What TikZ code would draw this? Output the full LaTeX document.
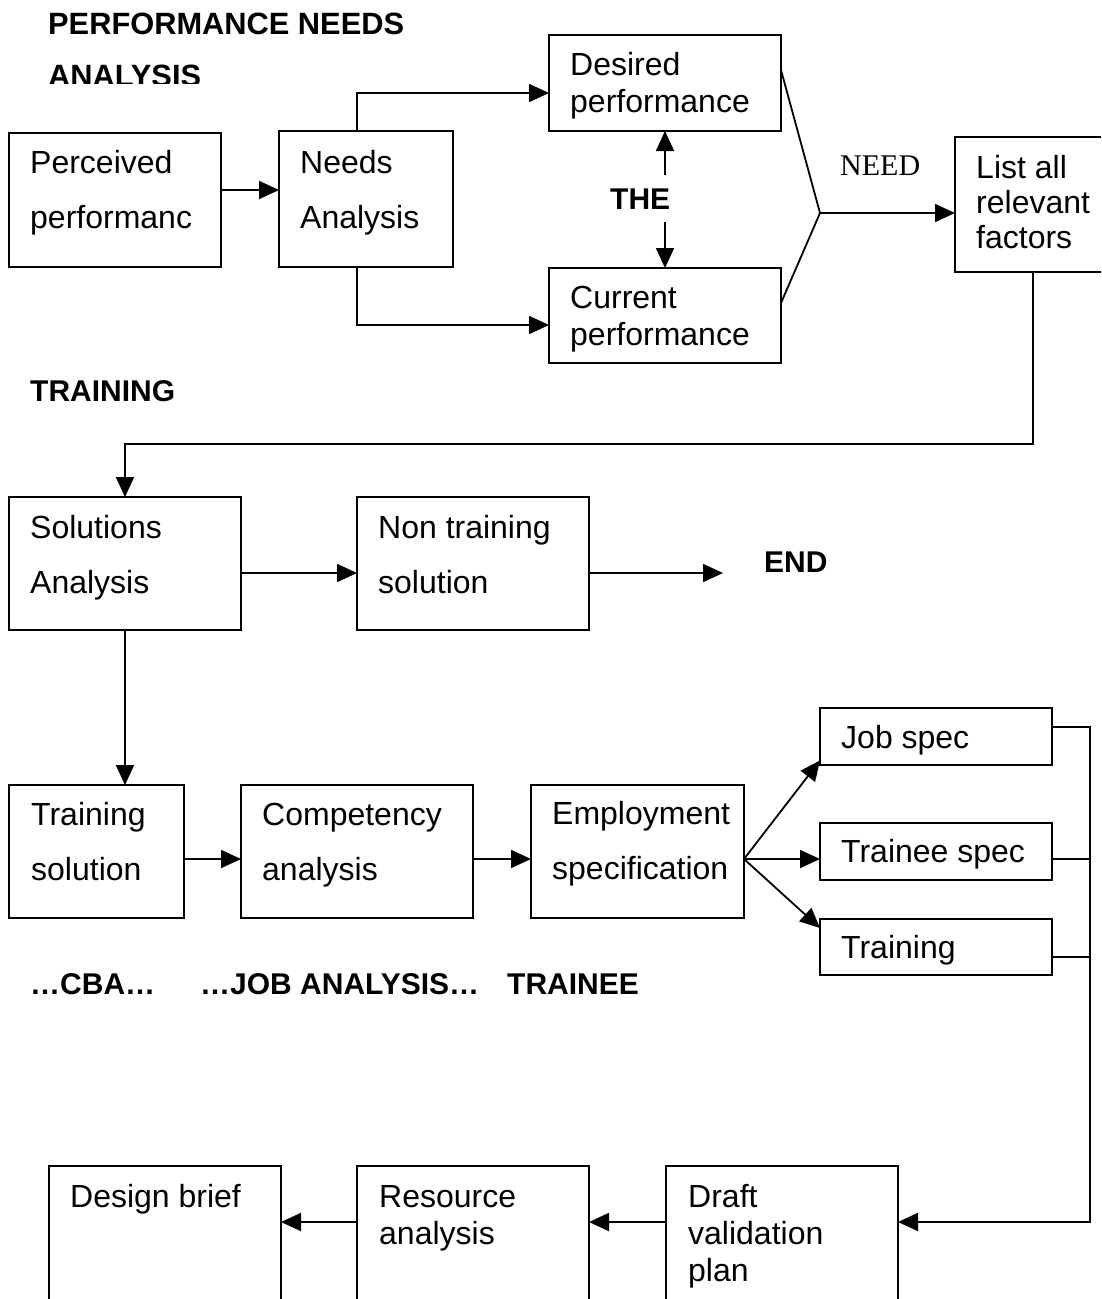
\documentclass[tikz,border=0pt]{standalone}
\usepackage{fontspec}
\setmainfont{Liberation Sans}
\newfontfamily\needserif{Liberation Serif}
\usetikzlibrary{arrows.meta}

\tikzset{
  box/.style={draw, line width=1.8pt, inner sep=0pt, outer sep=0pt},
  conn/.style={line width=1.8pt},
  arr/.style={conn, -{Triangle[length=20pt,width=18pt]}},
  boxtext/.style={anchor=north west, inner sep=0pt, align=left},
  wide/.style={boxtext, font=\fontsize{32}{55}\selectfont},
  tight/.style={boxtext, font=\fontsize{32}{37}\selectfont},
  tighter/.style={boxtext, font=\fontsize{32}{35}\selectfont},
  heading/.style={anchor=base west, inner sep=0pt, font=\bfseries\fontsize{30}{36}\selectfont},
}
\newcommand{\firstline}{\rule{0pt}{24pt}}

\begin{document}
\begin{tikzpicture}[x=1pt, y=-1pt]
\useasboundingbox (0,0) rectangle (1101,1299);
\clip (0,0) rectangle (1101,1299);

% ---------- headings ----------
\node[heading, font=\bfseries\fontsize{30.8}{36}\selectfont] (title1) at (48,34) {PERFORMANCE NEEDS};
\begin{scope}
  \clip (0,40) rectangle (500,83);
  \node[heading, font=\bfseries\fontsize{30.8}{36}\selectfont] (title2) at (48,86) {ANALYSIS};
\end{scope}
\node[heading] (training-h) at (30,401) {TRAINING};
\node[heading] (the) at (610,209) {THE};
\node[heading] (endlbl) at (764,572) {END};
\node[heading] (cba) at (30,994) {…CBA…};
\node[heading] (jobana) at (200,994) {…JOB ANALYSIS…};
\node[heading] (trainee-h) at (507,994) {TRAINEE};
\node[anchor=base west, inner sep=0pt, font=\needserif\fontsize{30}{34}\selectfont] (need) at (840,175) {NEED};

% ---------- boxes ----------
\node[box, minimum width=212pt, minimum height=134pt] (perc) at (115,200) {};
\node[box, minimum width=174pt, minimum height=136pt] (needs) at (366,199) {};
\node[box, minimum width=232pt, minimum height=96pt] (des) at (665,83) {};
\node[box, minimum width=232pt, minimum height=95pt] (cur) at (665,315.5) {};
\node[box, minimum width=160pt, minimum height=135pt] (list) at (1035,204.5) {};

\node[box, minimum width=232pt, minimum height=133pt] (sol) at (125,563.5) {};
\node[box, minimum width=232pt, minimum height=133pt] (nontr) at (473,563.5) {};

\node[box, minimum width=175pt, minimum height=133pt] (trs) at (96.5,851.5) {};
\node[box, minimum width=232pt, minimum height=133pt] (comp) at (357,851.5) {};
\node[box, minimum width=213pt, minimum height=133pt] (emp) at (637.5,851.5) {};

\node[box, minimum width=232pt, minimum height=57pt] (job) at (936,736.5) {};
\node[box, minimum width=232pt, minimum height=57pt] (trsp) at (936,851.5) {};
\node[box, minimum width=232pt, minimum height=56pt] (trn) at (936,947) {};

\node[box, minimum width=232pt, minimum height=154pt] (dbrief) at (165,1243) {};
\node[box, minimum width=232pt, minimum height=154pt] (res) at (473,1243) {};
\node[box, minimum width=232pt, minimum height=154pt] (draft) at (782,1243) {};

% ---------- box texts ----------
\node[wide] (perc-t) at (30,149) {\firstline Perceived\\performanc};
\node[wide] (needs-t) at (300,149) {\firstline Needs\\Analysis};
\node[tight] (des-t) at (570,51) {\firstline Desired\\performance};
\node[tight] (cur-t) at (570,284) {\firstline Current\\performance};
\node[tighter] (list-t) at (976,154) {\firstline List all\\relevant\\factors};

\node[wide] (sol-t) at (30,514) {\firstline Solutions\\Analysis};
\node[wide] (nontr-t) at (378,514) {\firstline Non training\\solution};

\node[wide] (trs-t) at (31,801) {\firstline Training\\solution};
\node[wide] (comp-t) at (262,801) {\firstline Competency\\analysis};
\node[wide] (emp-t) at (552,800) {\firstline Employment\\specification};

\node[tight] (job-t) at (841,724) {\firstline Job spec};
\node[tight] (trsp-t) at (841,838) {\firstline Trainee spec};
\node[tight] (trn-t) at (841,934) {\firstline Training};

\node[tight] (dbrief-t) at (70,1183) {\firstline Design brief};
\node[tight] (res-t) at (379,1183) {\firstline Resource\\analysis};
\node[tight] (draft-t) at (688,1183) {\firstline Draft\\validation\\plan};

% ---------- free ends ----------
\coordinate (theup) at (665,175);
\coordinate (thedn) at (665,222);
\coordinate (needpt) at (820,213);
\coordinate (turn) at (125,444);
\coordinate (endpt) at (723,573);
\coordinate (rail) at (1090,1222);

% ---------- connectors: needs analysis ----------
\draw[arr] ([yshift=10pt]perc.east) -- ([yshift=10pt]perc.east -| needs.west);
\draw[arr] ([xshift=-9pt]needs.north) |- ([yshift=-10pt]des.west);
\draw[arr] ([xshift=-9pt]needs.south) |- ([yshift=-9.5pt]cur.west);
\draw[arr] (theup) -- (des.south);
\draw[arr] (thedn) -- (cur.north);
\draw[conn] ([yshift=13pt]des.east) -- (needpt) -- ([yshift=12.5pt]cur.east);
\draw[arr] (needpt) -- (needpt -| list.west);

% ---------- connectors: training ----------
\draw[arr] ([xshift=-2pt]list.south) |- (turn) -- (sol.north);
\draw[arr] ([yshift=-9.5pt]sol.east) -- ([yshift=-9.5pt]nontr.west);
\draw[arr] ([yshift=-9.5pt]nontr.east) -- (endpt);
\draw[arr] (sol.south) -- (sol.south |- trs.north);

\draw[arr] ([yshift=-7.5pt]trs.east) -- ([yshift=-7.5pt]comp.west);
\draw[arr] ([yshift=-7.5pt]comp.east) -- ([yshift=-7.5pt]emp.west);
\draw[arr] ([yshift=-7.5pt]emp.east) -- ([yshift=-24pt]job.west);
\draw[arr] ([yshift=-7.5pt]emp.east) -- ([yshift=-7.5pt]trsp.west);
\draw[arr] ([yshift=-7.5pt]emp.east) -- ([yshift=19pt]trn.west);

% ---------- connectors: collecting rail and bottom row ----------
\draw[arr] ([yshift=9.5pt]job.east) -| (rail) -- (rail -| draft.east);
\draw[conn] ([yshift=-7.5pt]trsp.east) -- ([yshift=-7.5pt]trsp.east -| rail);
\draw[conn] ([yshift=-10pt]trn.east) -- ([yshift=-10pt]trn.east -| rail);
\draw[arr] ([yshift=21pt]draft.west) -- ([yshift=21pt]res.east);
\draw[arr] ([yshift=21pt]res.west) -- ([yshift=21pt]dbrief.east);
\end{tikzpicture}
\end{document}
